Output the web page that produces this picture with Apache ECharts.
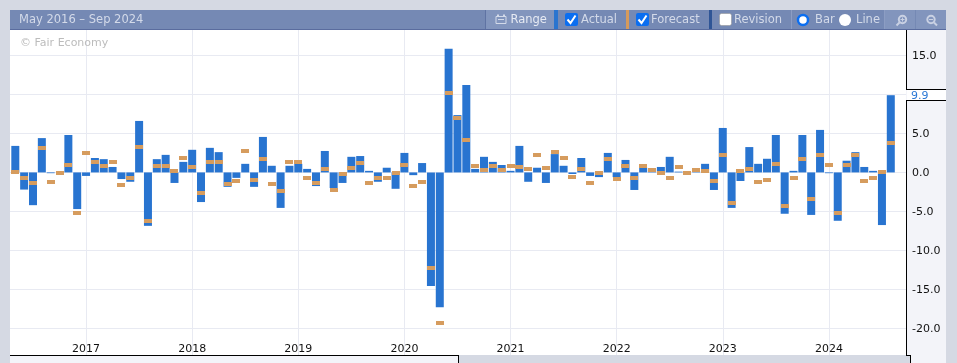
<!DOCTYPE html>
<html><head><meta charset="utf-8">
<style>html,body{margin:0;padding:0;background:#d5d9e3}#c{width:957px;height:363px}</style>
<script src="https://cdn.jsdelivr.net/npm/echarts@6/dist/echarts.min.js"></script>
</head><body><div id="c"></div>
<script>
const rangeTitle = 'May 2016 – Sep 2024';
const actual = [3.4,-2.2,-4.2,4.4,-0.1,0,4.8,-4.7,-0.45,1.85,1.7,0.7,-0.85,-1.2,6.6,-6.85,1.7,2.25,-1.35,1.35,2.9,-3.8,3.15,2.6,-1.85,-0.7,
1.1,-1.85,4.55,0.85,-4.55,0.85,1.1,0.45,-1.75,2.75,-2.0,-1.35,2.0,2.1,0.2,-1.2,0.6,-2.1,2.5,-0.35,1.2,-14.55,-17.3,15.85,7.35,11.2,0.45,
2.0,1.35,0.95,0.2,3.4,-1.2,0.6,-1.35,2.35,0.85,-0.2,1.85,-0.45,-0.6,2.5,-0.6,1.6,-2.25,0.6,0.1,0.7,2.0,0.1,0,0.1,1.1,-2.25,
5.7,-4.55,-1.1,3.25,1.1,1.75,4.8,-5.3,0.2,4.8,-5.45,5.45,-0.1,-6.2,1.5,2.6,0.7,0.2,-6.75,9.9];
const forecast = [0.05,-0.7,-1.35,3.1,-1.2,-0.1,1.0,-5.2,2.5,1.35,0.85,1.35,-1.6,-0.7,3.25,-6.2,0.85,0.85,0.2,1.85,0.7,-2.6,1.35,1.35,-1.45,-1.1,
2.75,-0.95,1.7,-1.45,-2.35,1.35,1.35,-0.7,-1.35,0.45,-2.25,-0.2,0.6,1.2,-1.35,-0.7,-0.7,-0.05,1.0,-1.75,-1.2,-12.2,-19.3,10.2,7.0,4.15,0.85,
0.3,0.85,0.3,0.85,0.7,0.45,2.25,0.6,2.65,1.85,-0.6,0.45,-1.35,-0.05,1.75,-0.85,0.85,-0.7,0.85,0.3,-0.05,-0.7,0.7,-0.05,0.3,0.2,-1.1,
2.25,-3.9,0.2,0.45,-1.2,-0.95,1.1,-4.3,-0.7,1.75,-3.4,2.25,1.0,-5.2,1.0,2.25,-1.1,-0.7,0.05,3.8];
const yearTicks = [8,20,32,44,56,68,80,92];
const yearLabels = ['2017','2018','2019','2020','2021','2022','2023','2024'];
const yGrid = [-20,-15,-10,-5,0,5,10,15];
const yLabels = [-20,-15,-10,-5,0,5,15];
const latestValue = '9.9';

const FONT = '"DejaVu Sans", Verdana, sans-serif';
const HT = '#d3dae9';
const IC = '#c9d1e3';
const txt = (s,x,fill,size,y) => ({type:'text',z:20,style:{text:s,x:x,y:y===undefined?20:y,fill:fill||HT,font:(size||11.5)+'px '+FONT,textVerticalAlign:'middle'}});
const rect = (x,y,w,h,fill,z) => ({type:'rect',z:z===undefined?10:z,shape:{x,y,width:w,height:h},style:{fill}});
const line = (x1,y1,x2,y2,stroke,z,w) => ({type:'line',z:z===undefined?12:z,shape:{x1,y1,x2,y2},style:{stroke:stroke||'#000',lineWidth:w||1}});
const check = (x) => [
  {type:'rect',z:15,shape:{x:x,y:13,width:13,height:13,r:2},style:{fill:'#0b6ef0'}},
  {type:'polyline',z:16,shape:{points:[[x+2.5,19.5],[x+5.5,23],[x+10.5,15.5]]},style:{stroke:'#fff',lineWidth:2,fill:null}}
];
const graphics = [
  rect(906,30,40,325,'#f3f4f9',-5),
  rect(10,355,448,8,'#f3f4f9',-5),
  rect(910,355,36,8,'#f3f4f9',-5),
  rect(907,89.5,39,11,'#ffffff',-4),
  line(906.5,30,906.5,89.5), line(906.5,100.5,906.5,355.5),
  line(906,89.5,946,89.5), line(906,100.5,946,100.5),
  line(10,355.5,458.5,355.5), line(458.5,355,458.5,363),
  line(906,355.5,910.5,355.5), line(910.5,355,910.5,363),
  {type:'text',z:20,style:{text:latestValue,x:911,y:96,fill:'#2a78d6',font:'11px '+FONT,textVerticalAlign:'middle'}},
  rect(10,10,936,20,'#7589b4',8),
  rect(10,29,936,1,'#5a6c9e',9),
  txt(rangeTitle,19),
  {type:'text',z:5,style:{text:'© Fair Economy',x:20,y:43.5,fill:'#bcbcbc',font:'11px '+FONT,textVerticalAlign:'middle'}},
  rect(486,10,68,19,'#8295bd'),
  line(485.5,10,485.5,29,'#5f73a3'),
  {type:'rect',z:15,shape:{x:496,y:16.5,width:10,height:7},style:{fill:null,stroke:'#d3dae9',lineWidth:1}},
  rect(497,14.5,2,2,'#d3dae9',15), rect(503,14.5,2,2,'#d3dae9',15), rect(498,19,6,1,'#d3dae9',15),
  txt('Range',510.5,'#e6eaf3'),
  rect(554,10,4,19,'#2a74cf'),
  ...check(565),
  txt('Actual',581),
  rect(626,10,3,19,'#d59a5c'),
  ...check(636),
  txt('Forecast',651),
  rect(709,10,3,19,'#2f5596'),
  {type:'rect',z:15,shape:{x:719.5,y:13.5,width:12,height:12,r:2},style:{fill:'#fff',stroke:'#8c8c8c',lineWidth:0.5}},
  txt('Revision',734),
  line(791.5,10,791.5,29,'#8c9dc3'),
  {type:'circle',z:15,shape:{cx:803,cy:20,r:5},style:{fill:'#fff',stroke:'#0b6ef0',lineWidth:2.5}},
  txt('Bar',815),
  {type:'circle',z:15,shape:{cx:845,cy:20,r:6},style:{fill:'#fff'}},
  txt('Line',856),
  rect(885,10,30,19,'#8295bd'), rect(916,10,30,19,'#8295bd'),
  line(884.5,10,884.5,29,'#8c9dc3'),
  {type:'circle',z:15,shape:{cx:902.5,cy:19.5,r:3.7},style:{fill:null,stroke:IC,lineWidth:2}},
  line(899.5,22.5,896.5,25.5,IC,15,2),
  line(900.5,19.5,904.5,19.5,IC,15), line(902.5,17.5,902.5,21.5,IC,15),
  {type:'circle',z:15,shape:{cx:931,cy:19.5,r:3.7},style:{fill:null,stroke:IC,lineWidth:2}},
  line(934,22.5,937,25.5,IC,15,2),
  line(929,19.5,933,19.5,IC,15)
];

const chart = echarts.init(document.getElementById('c'),null,{renderer:'canvas'});
chart.setOption({
  animation:false,
  backgroundColor:'#d5d9e3',
  grid:{left:10,top:30,width:896,height:325,show:true,backgroundColor:'#fff',borderWidth:0},
  xAxis:{type:'value',min:-0.6,max:100.72,
    axisLine:{show:false},
    axisTick:{show:false,customValues:yearTicks},
    splitLine:{show:true,lineStyle:{color:'#e8eaf2',width:1}},
    axisLabel:{show:true,inside:true,margin:0,customValues:yearTicks,color:'#111',fontSize:11,fontFamily:'DejaVu Sans',
      formatter:v=>yearLabels[yearTicks.indexOf(v)]||''}},
  yAxis:{type:'value',position:'right',min:-23.41,max:18.26,
    axisLine:{show:false},
    axisTick:{show:false,customValues:yGrid},
    splitLine:{show:true,lineStyle:{color:'#e8eaf2',width:1}},
    axisLabel:{show:true,margin:6,customValues:yLabels,color:'#111',fontSize:11,fontFamily:'DejaVu Sans',
      rich:{a:{padding:[1,0,0,0],color:'#111',fontSize:11,fontFamily:'DejaVu Sans'}},
      formatter:v=>'{a|'+v.toFixed(1)+'}'}},
  series:[
    {name:'Actual',type:'bar',barWidth:8,itemStyle:{color:'#2874d0'},data:actual.map((v,i)=>[i,v])},
    {name:'Forecast',type:'custom',z:5,data:forecast.map((v,i)=>[i,v]),
      renderItem:(params,api)=>{
        const p = api.coord([api.value(0),api.value(1)]);
        return {type:'rect',shape:{x:Math.round(p[0]-4),y:Math.round(p[1]-2),width:8,height:4},style:{fill:'#d69c5e'}};
      }}
  ],
  graphic:{elements:graphics}
});
</script></body></html>
